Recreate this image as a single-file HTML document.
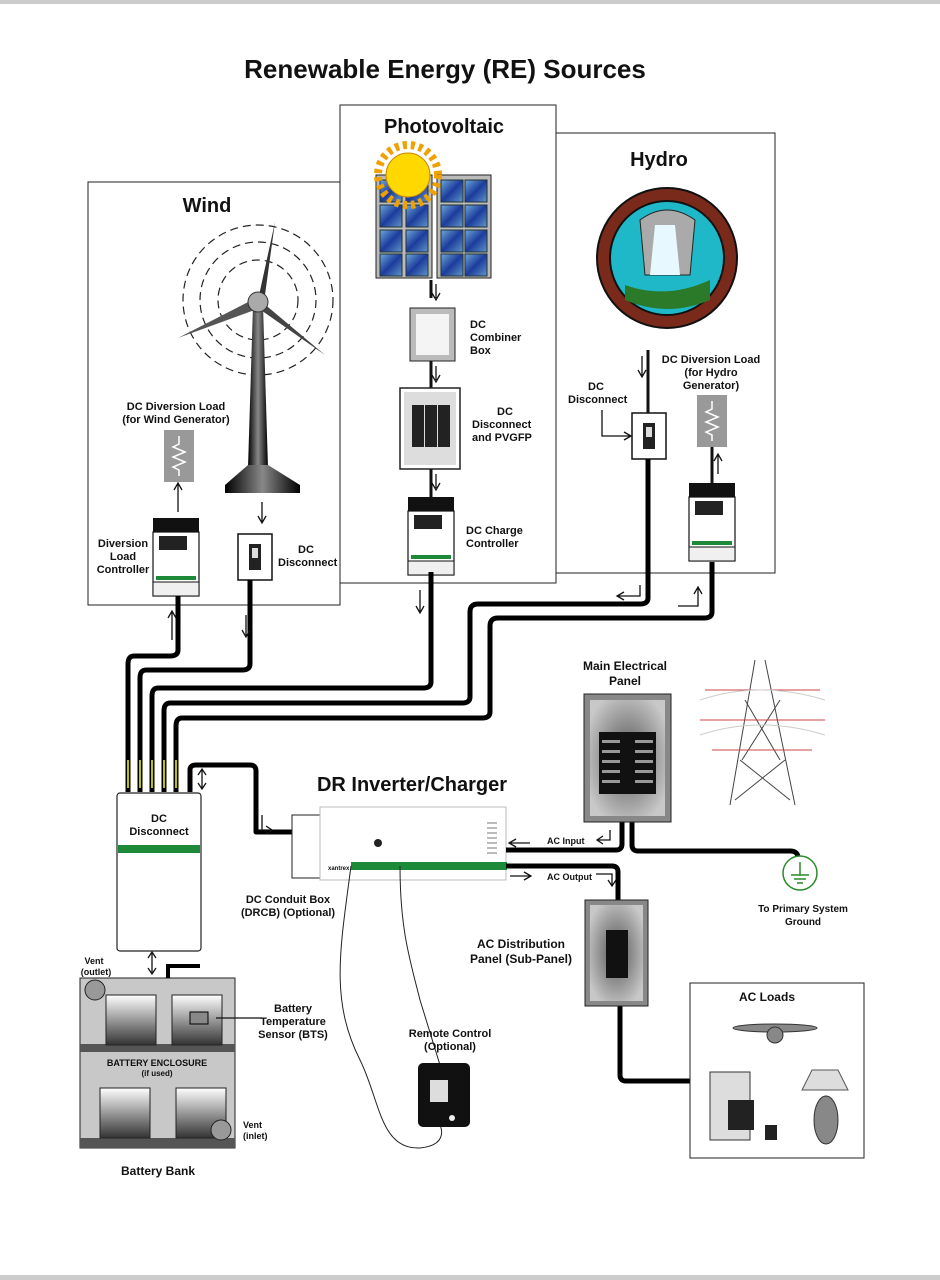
<!DOCTYPE html>
<html><head><meta charset="utf-8"><style>
html,body{margin:0;padding:0;background:#fff}
svg{display:block}
text{font-family:"Liberation Sans",Arial,sans-serif;font-weight:bold;fill:#111}
.ar{stroke:#111;stroke-width:1.3;fill:none}
</style></head><body>
<svg width="940" height="1280" viewBox="0 0 940 1280" xmlns="http://www.w3.org/2000/svg">
<defs>
<linearGradient id="cell" x1="0" y1="0" x2="1" y2="1"><stop offset="0" stop-color="#6fa8d8"/><stop offset="0.5" stop-color="#1c3c9c"/><stop offset="1" stop-color="#5f95c8"/></linearGradient>
<radialGradient id="panel" cx="0.5" cy="0.5" r="0.6"><stop offset="0" stop-color="#555"/><stop offset="1" stop-color="#c8c8c8"/></radialGradient>
<linearGradient id="bat" x1="0" y1="0" x2="0" y2="1"><stop offset="0" stop-color="#fff"/><stop offset="1" stop-color="#333"/></linearGradient>
<linearGradient id="tower" x1="0" y1="0" x2="1" y2="0"><stop offset="0" stop-color="#000"/><stop offset="0.5" stop-color="#888"/><stop offset="1" stop-color="#000"/></linearGradient>
<g id="ctrl">
 <rect x="0" y="0" width="46" height="14" fill="#111"/>
 <rect x="0" y="14" width="46" height="64" fill="#fff" stroke="#111" stroke-width="1.2"/>
 <rect x="6" y="18" width="28" height="14" fill="#222"/>
 <rect x="3" y="58" width="40" height="4" fill="#1d8a3a"/>
 <rect x="0" y="64" width="46" height="14" fill="#f0f0f0" stroke="#111" stroke-width="1"/>
</g>
<g id="disc">
 <rect x="0" y="0" width="34" height="46" fill="#fff" stroke="#111" stroke-width="1.5"/>
 <rect x="11" y="10" width="12" height="26" fill="#222"/>
 <rect x="14" y="14" width="6" height="10" fill="#ddd"/>
</g>
<g id="divload">
 <rect x="0" y="0" width="30" height="52" fill="#999"/>
 <path d="M15 6 V14 l-6 3 12 5 -12 5 12 5 -12 5 6 3 V46" fill="none" stroke="#fff" stroke-width="1.5"/>
</g>
</defs>
<rect x="0" y="0" width="940" height="4" fill="#ccc"/>
<rect x="0" y="1275" width="940" height="5" fill="#ccc"/>

<text x="445" y="78" font-size="26" text-anchor="middle">Renewable Energy (RE) Sources</text>

<rect x="88" y="182" width="252" height="423" fill="#fff" stroke="#222" stroke-width="1"/>
<rect x="556" y="133" width="219" height="440" fill="#fff" stroke="#222" stroke-width="1"/>
<rect x="340" y="105" width="216" height="478" fill="#fff" stroke="#222" stroke-width="1"/>
<text x="207" y="212" font-size="20" text-anchor="middle">Wind</text>
<text x="444" y="133" font-size="20" text-anchor="middle">Photovoltaic</text>
<text x="659" y="166" font-size="20" text-anchor="middle">Hydro</text>

<g fill="none" stroke="#222" stroke-dasharray="8 5" stroke-width="1.2">
<circle cx="258" cy="300" r="75"/><circle cx="258" cy="300" r="58"/><circle cx="258" cy="300" r="40"/>
</g>
<polygon points="253,305 263,305 268,468 248,468" fill="url(#tower)"/>
<polygon points="248,465 268,465 300,485 300,493 225,493 225,485" fill="url(#tower)"/>
<polygon points="258,300 275,222 264,302" fill="#333"/>
<polygon points="256,298 178,338 260,308" fill="#555"/>
<polygon points="262,302 325,355 258,308" fill="#444"/>
<circle cx="258" cy="302" r="10" fill="#aaa" stroke="#333"/>

<text x="176" y="410" font-size="11" text-anchor="middle">DC Diversion Load</text>
<text x="176" y="423" font-size="11" text-anchor="middle">(for Wind Generator)</text>
<use href="#divload" x="164" y="430"/>
<use href="#ctrl" x="153" y="518"/>
<text x="123" y="547" font-size="11" text-anchor="middle">Diversion</text>
<text x="123" y="560" font-size="11" text-anchor="middle">Load</text>
<text x="123" y="573" font-size="11" text-anchor="middle">Controller</text>
<use href="#disc" x="238" y="534"/>
<text x="298" y="553" font-size="11">DC</text>
<text x="278" y="566" font-size="11">Disconnect</text>
<path d="M178 484 V512 M174 490 l4 -7 4 7" class="ar"/>
<path d="M262 502 V522 M258 516 l4 7 4 -7" class="ar"/>

<rect x="376" y="175" width="56" height="103" fill="#bbb" stroke="#222"/>
<rect x="437" y="175" width="54" height="103" fill="#bbb" stroke="#222"/>
<g fill="url(#cell)" stroke="#233">
<rect x="380" y="180" width="22" height="22"/><rect x="406" y="180" width="22" height="22"/>
<rect x="380" y="205" width="22" height="22"/><rect x="406" y="205" width="22" height="22"/>
<rect x="380" y="230" width="22" height="22"/><rect x="406" y="230" width="22" height="22"/>
<rect x="380" y="254" width="22" height="22"/><rect x="406" y="254" width="22" height="22"/>
<rect x="441" y="180" width="22" height="22"/><rect x="465" y="180" width="22" height="22"/>
<rect x="441" y="205" width="22" height="22"/><rect x="465" y="205" width="22" height="22"/>
<rect x="441" y="230" width="22" height="22"/><rect x="465" y="230" width="22" height="22"/>
<rect x="441" y="254" width="22" height="22"/><rect x="465" y="254" width="22" height="22"/>
</g>
<circle cx="408" cy="175" r="30" fill="none" stroke="#f0a000" stroke-width="8" stroke-dasharray="4 4"/>
<circle cx="408" cy="175" r="22" fill="#ffd800" stroke="#c98800"/>
<path d="M431 280 V298" stroke="#111" stroke-width="3"/>
<path d="M436 284 V298 M432 293 l4 7 4 -7" class="ar"/>
<rect x="410" y="308" width="45" height="53" fill="#bbb" stroke="#222"/>
<rect x="416" y="314" width="33" height="41" fill="#f4f4f4"/>
<text x="470" y="328" font-size="11">DC</text>
<text x="470" y="341" font-size="11">Combiner</text>
<text x="470" y="354" font-size="11">Box</text>
<path d="M431 361 V388" stroke="#111" stroke-width="3"/>
<path d="M436 366 V380 M432 375 l4 7 4 -7" class="ar"/>
<rect x="400" y="388" width="60" height="81" fill="#fff" stroke="#222" stroke-width="1.5"/>
<rect x="404" y="392" width="52" height="73" fill="#ddd"/>
<rect x="412" y="405" width="12" height="42" fill="#222"/><rect x="425" y="405" width="12" height="42" fill="#222"/><rect x="438" y="405" width="12" height="42" fill="#222"/>
<text x="497" y="415" font-size="11">DC</text>
<text x="472" y="428" font-size="11">Disconnect</text>
<text x="472" y="441" font-size="11">and PVGFP</text>
<path d="M431 469 V497" stroke="#111" stroke-width="3"/>
<path d="M436 474 V488 M432 483 l4 7 4 -7" class="ar"/>
<use href="#ctrl" x="408" y="497"/>
<text x="466" y="534" font-size="11">DC Charge</text>
<text x="466" y="547" font-size="11">Controller</text>

<circle cx="667" cy="258" r="70" fill="#7a2a1a" stroke="#111" stroke-width="2"/>
<circle cx="667" cy="258" r="57" fill="#1fb8c8" stroke="#111" stroke-width="2"/>
<path d="M625 285 Q667 300 710 280 L710 300 Q667 318 625 300Z" fill="#2a7a2a"/>
<path d="M640 220 Q667 200 695 220 L690 275 L645 275Z" fill="#aaa" stroke="#222"/>
<path d="M655 225 L675 225 L680 275 L650 275Z" fill="#e8f8ff"/>
<path d="M648 440 V350" stroke="#111" stroke-width="3"/>
<path d="M642 356 V376 M638 370 l4 7 4 -7" class="ar"/>
<text x="588" y="390" font-size="11">DC</text>
<text x="568" y="403" font-size="11">Disconnect</text>
<path d="M602 410 V436 H630 M624 432 l7 4 -7 4" class="ar"/>
<use href="#disc" x="632" y="413"/>
<text x="711" y="363" font-size="11" text-anchor="middle">DC Diversion Load</text>
<text x="711" y="376" font-size="11" text-anchor="middle">(for Hydro</text>
<text x="711" y="389" font-size="11" text-anchor="middle">Generator)</text>
<use href="#divload" x="697" y="395"/>
<path d="M712 447 V483" stroke="#111" stroke-width="3"/>
<path d="M718 474 V455 M714 461 l4 -7 4 7" class="ar"/>
<use href="#ctrl" x="689" y="483"/>

<g fill="none" stroke="#000" stroke-width="5" stroke-linejoin="round">
<path d="M178 596 V650 Q178 656 170 656 H134 Q128 656 128 664 V792"/>
<path d="M250 580 V664 Q250 670 242 670 H146 Q140 670 140 678 V792"/>
<path d="M431 572 V682 Q431 688 423 688 H158 Q152 688 152 696 V792"/>
<path d="M648 459 V598 Q648 604 640 604 H478 Q470 604 470 612 V697 Q470 703 462 703 H170 Q164 703 164 711 V792"/>
<path d="M712 562 V612 Q712 618 704 618 H498 Q490 618 490 626 V712 Q490 718 482 718 H182 Q176 718 176 726 V792"/>
<path d="M190 792 V770 Q190 765 196 765 H250 Q256 765 256 771 V832 H292"/>
</g>
<g stroke="#ff0" stroke-width="1.5"><path d="M128 760 V788 M140 760 V788 M152 760 V788 M164 760 V788 M176 760 V788"/></g>
<path d="M172 612 V640 M168 618 l4 -7 4 7" class="ar"/>
<path d="M246 615 V636 M242 630 l4 7 4 -7" class="ar"/>
<path d="M420 590 V612 M416 606 l4 7 4 -7" class="ar"/>
<path d="M640 585 V596 H618 M624 592 l-7 4 7 4" class="ar"/>
<path d="M678 606 H698 V588 M694 594 l4 -7 4 7" class="ar"/>
<path d="M202 770 V788 M198 775 l4 -6 4 6 M198 783 l4 6 4 -6" class="ar"/>
<path d="M262 815 V830 H272 M266 826 l6 4 -6 4" class="ar"/>

<rect x="117" y="793" width="84" height="158" fill="#fff" stroke="#222" stroke-width="1.2" rx="3"/>
<text x="159" y="822" font-size="11" text-anchor="middle">DC</text>
<text x="159" y="835" font-size="11" text-anchor="middle">Disconnect</text>
<rect x="118" y="845" width="82" height="8" fill="#1d8a3a"/>
<path d="M152 953 V974 M148 958 l4 -6 4 6 M148 968 l4 6 4 -6" class="ar"/>

<rect x="80" y="978" width="155" height="170" fill="#c8c8c8" stroke="#222"/>
<rect x="80" y="1044" width="155" height="8" fill="#555"/>
<rect x="80" y="1138" width="155" height="10" fill="#555"/>
<rect x="106" y="995" width="50" height="50" fill="url(#bat)" stroke="#222"/>
<rect x="172" y="995" width="50" height="50" fill="url(#bat)" stroke="#222"/>
<rect x="100" y="1088" width="50" height="50" fill="url(#bat)" stroke="#222"/>
<rect x="176" y="1088" width="50" height="50" fill="url(#bat)" stroke="#222"/>
<rect x="190" y="1012" width="18" height="12" fill="#888" stroke="#000"/>
<circle cx="95" cy="990" r="10" fill="#999" stroke="#222"/>
<circle cx="221" cy="1130" r="10" fill="#999" stroke="#222"/>
<text x="157" y="1066" font-size="9" font-weight="normal" text-anchor="middle">BATTERY ENCLOSURE</text>
<text x="157" y="1076" font-size="8" font-weight="normal" text-anchor="middle">(if used)</text>
<path d="M168 978 V966 H200" stroke="#000" stroke-width="4" fill="none"/>
<path d="M216 1018 H262" stroke="#111" stroke-width="1.3"/>
<text x="94" y="964" font-size="9" text-anchor="middle">Vent</text>
<text x="96" y="975" font-size="9" text-anchor="middle">(outlet)</text>
<text x="243" y="1128" font-size="9">Vent</text>
<text x="243" y="1139" font-size="9">(inlet)</text>
<text x="293" y="1012" font-size="11" text-anchor="middle">Battery</text>
<text x="293" y="1025" font-size="11" text-anchor="middle">Temperature</text>
<text x="293" y="1038" font-size="11" text-anchor="middle">Sensor (BTS)</text>
<text x="158" y="1175" font-size="12" text-anchor="middle">Battery Bank</text>

<text x="412" y="791" font-size="20" text-anchor="middle">DR Inverter/Charger</text>
<rect x="292" y="815" width="28" height="63" fill="#fff" stroke="#222"/>
<text x="288" y="903" font-size="11" text-anchor="middle">DC Conduit Box</text>
<text x="288" y="916" font-size="11" text-anchor="middle">(DRCB) (Optional)</text>
<rect x="320" y="807" width="186" height="73" fill="#fff" stroke="#bbb"/>
<rect x="351" y="862" width="156" height="8" fill="#1d8a3a"/>
<text x="328" y="870" font-size="6">xantrex</text>
<circle cx="378" cy="843" r="4" fill="#222"/>
<g fill="#bbb"><rect x="487" y="822" width="10" height="2"/><rect x="487" y="827" width="10" height="2"/><rect x="487" y="832" width="10" height="2"/><rect x="487" y="837" width="10" height="2"/><rect x="487" y="842" width="10" height="2"/><rect x="487" y="847" width="10" height="2"/><rect x="487" y="852" width="10" height="2"/></g>
<path d="M351 866 C340 950 330 1000 360 1060 C380 1100 380 1150 420 1148 C450 1145 440 1125 440 1125" stroke="#222" fill="none" stroke-width="1"/>
<path d="M400 866 C400 930 410 960 420 1000 L440 1065" stroke="#222" fill="none" stroke-width="1"/>
<text x="450" y="1037" font-size="11" text-anchor="middle">Remote Control</text>
<text x="450" y="1050" font-size="11" text-anchor="middle">(Optional)</text>
<rect x="418" y="1063" width="52" height="64" rx="5" fill="#111"/>
<rect x="430" y="1080" width="18" height="22" fill="#ddd"/>
<circle cx="452" cy="1118" r="3" fill="#eee"/>

<g fill="none" stroke="#000" stroke-width="5" stroke-linejoin="round">
<path d="M506 850 H616 Q622 850 622 844 V822"/>
<path d="M632 822 V845 Q632 851 638 851 H790 Q798 851 798 858"/>
<path d="M506 866 H612 Q618 866 618 872 V902"/>
<path d="M620 1005 V1075 Q620 1081 626 1081 H690"/>
</g>
<path d="M510 843 H530 M516 839 l-7 4 7 4" class="ar"/>
<path d="M510 876 H530 M524 872 l7 4 -7 4" class="ar"/>
<text x="547" y="844" font-size="9">AC Input</text>
<text x="547" y="880" font-size="9">AC Output</text>
<path d="M610 830 V840 H598 M603 836 l-6 4 6 4" class="ar"/>
<path d="M596 874 H612 V886 M608 880 l4 6 4 -6" class="ar"/>
<text x="625" y="670" font-size="12" text-anchor="middle">Main Electrical</text>
<text x="625" y="685" font-size="12" text-anchor="middle">Panel</text>
<rect x="584" y="694" width="87" height="128" fill="#888" stroke="#222"/>
<rect x="590" y="700" width="75" height="116" fill="url(#panel)"/>
<rect x="599" y="732" width="57" height="62" fill="#111"/>
<g fill="#999"><rect x="602" y="740" width="18" height="3"/><rect x="602" y="750" width="18" height="3"/><rect x="602" y="760" width="18" height="3"/><rect x="602" y="770" width="18" height="3"/><rect x="602" y="780" width="18" height="3"/><rect x="635" y="740" width="18" height="3"/><rect x="635" y="750" width="18" height="3"/><rect x="635" y="760" width="18" height="3"/><rect x="635" y="770" width="18" height="3"/><rect x="635" y="780" width="18" height="3"/></g>
<g stroke="#444" stroke-width="1" fill="none">
<path d="M755 660 L730 805 M765 660 L795 805 M745 700 L780 760 M780 700 L742 760 M740 760 L790 800 M785 760 L735 800"/>
<path d="M705 690 H820 M700 720 H825 M712 750 H812" stroke="#c44"/>
<path d="M700 700 Q760 680 825 700 M700 735 Q760 715 825 735" stroke="#ccc"/>
</g>
<circle cx="800" cy="873" r="17" fill="#fff" stroke="#2a8a2a" stroke-width="1.5"/>
<path d="M800 862 V875 M791 875 H809 M794 879 H806 M797 883 H803" stroke="#2a8a2a" stroke-width="1.5"/>
<text x="803" y="912" font-size="10" text-anchor="middle">To Primary System</text>
<text x="803" y="925" font-size="10" text-anchor="middle">Ground</text>
<text x="521" y="948" font-size="12" text-anchor="middle">AC Distribution</text>
<text x="521" y="963" font-size="12" text-anchor="middle">Panel (Sub-Panel)</text>
<rect x="585" y="900" width="63" height="106" fill="#888" stroke="#222"/>
<rect x="590" y="905" width="53" height="96" fill="url(#panel)"/>
<rect x="606" y="930" width="22" height="48" fill="#111"/>
<rect x="690" y="983" width="174" height="175" fill="#fff" stroke="#222"/>
<text x="767" y="1001" font-size="12" text-anchor="middle">AC Loads</text>
<g fill="#888" stroke="#333"><ellipse cx="775" cy="1028" rx="42" ry="4"/><circle cx="775" cy="1035" r="8"/></g>
<rect x="710" y="1072" width="40" height="68" fill="#ddd" stroke="#333"/>
<rect x="728" y="1100" width="26" height="30" fill="#222"/>
<rect x="765" y="1125" width="12" height="15" fill="#222"/>
<polygon points="812,1070 838,1070 848,1090 802,1090" fill="#ddd" stroke="#555"/>
<ellipse cx="826" cy="1120" rx="12" ry="24" fill="#888" stroke="#333"/>
</svg>
</body></html>
